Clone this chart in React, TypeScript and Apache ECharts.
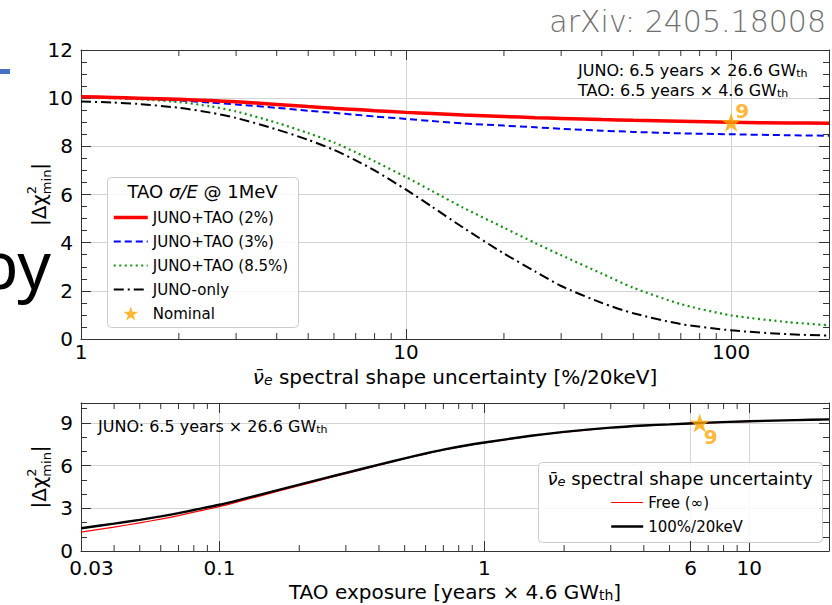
import React, { useEffect, useRef } from 'react';
import * as echarts from 'echarts';

// ---- data: upper panel (x = spectral shape uncertainty [%/20keV]) ----
const uncertaintyX = [1, 1.25, 1.5, 2, 2.5, 3, 4, 5, 6, 7, 8, 10, 12, 15, 20, 25, 30, 40, 50, 70, 100, 150, 200];
const junoTao2 = [10.06, 10.03, 10.0, 9.95, 9.9, 9.85, 9.74, 9.65, 9.58, 9.53, 9.48, 9.41, 9.36, 9.3, 9.24, 9.19, 9.16, 9.11, 9.08, 9.04, 9.0, 8.97, 8.96];
const junoTao3 = [10.05, 10.02, 9.98, 9.9, 9.82, 9.74, 9.6, 9.48, 9.39, 9.31, 9.24, 9.14, 9.05, 8.95, 8.86, 8.79, 8.73, 8.65, 8.6, 8.54, 8.5, 8.46, 8.44];
const junoTao85 = [10.02, 10.0, 9.96, 9.84, 9.66, 9.45, 8.98, 8.55, 8.16, 7.75, 7.38, 6.72, 6.15, 5.45, 4.62, 3.98, 3.48, 2.72, 2.13, 1.45, 0.98, 0.7, 0.57];
const junoOnly = [9.86, 9.82, 9.76, 9.6, 9.4, 9.18, 8.7, 8.27, 7.85, 7.42, 7.0, 6.2, 5.5, 4.62, 3.55, 2.8, 2.2, 1.5, 1.07, 0.62, 0.36, 0.2, 0.14];
const nominalTop = [100, 9];

// ---- data: lower panel (x = TAO exposure [years x 4.6 GWth]) ----
const exposureX = [0.03, 0.04, 0.05, 0.06, 0.07, 0.08, 0.1, 0.12, 0.15, 0.2, 0.25, 0.3, 0.4, 0.5, 0.6, 0.7, 0.85, 1, 1.5, 2, 3, 4, 5, 7, 10, 15, 20];
const shapeFree = [1.33, 1.68, 1.98, 2.24, 2.49, 2.73, 3.12, 3.5, 3.98, 4.59, 5.06, 5.44, 6.03, 6.48, 6.83, 7.1, 7.39, 7.6, 8.08, 8.36, 8.66, 8.81, 8.89, 9.01, 9.11, 9.19, 9.24];
const shape100 = [1.6, 1.92, 2.19, 2.43, 2.66, 2.88, 3.25, 3.61, 4.07, 4.66, 5.12, 5.49, 6.07, 6.51, 6.85, 7.12, 7.41, 7.62, 8.1, 8.37, 8.67, 8.82, 8.9, 9.02, 9.12, 9.2, 9.25];
const nominalBottom = [6.5, 9];

// ---- axis decorations ----
const topMinorTicks = [2, 3, 4, 5, 6, 7, 8, 9, 20, 30, 40, 50, 60, 70, 80, 90];
const bottomMinorTicks = [0.04, 0.05, 0.06, 0.07, 0.08, 0.09, 0.2, 0.3, 0.4, 0.5, 0.6, 0.7, 0.8, 0.9, 2, 3, 4, 5, 7, 8, 9];
const bottomExtraMajorTicks = [6];

const FONT = "'DejaVu Sans', sans-serif";
const AXIS_COLOR = '#333333';
const GRID_COLOR = '#d4d4d4';
const STAR = 'path://M50,0 L61.2,34.5 L97.6,34.5 L68.2,55.9 L79.4,90.5 L50,69.1 L20.6,90.5 L31.8,55.9 L2.4,34.5 L38.8,34.5 Z';

const zip = (xs: number[], ys: number[]) => xs.map((x, i) => [x, ys[i]]);
const fmt = (v: number) => String(Number(v.toPrecision(4)));

function tickRenderer(len: number, withLabel: boolean) {
  return (params: any, api: any) => {
    const v = api.value(0);
    const p = api.coord([v, api.value(1)]);
    const cs = params.coordSys;
    const bottom = cs.y + cs.height;
    const style = { stroke: AXIS_COLOR, lineWidth: 1 };
    const children: any[] = [
      { type: 'line', shape: { x1: p[0], y1: bottom, x2: p[0], y2: bottom - len }, style },
      { type: 'line', shape: { x1: p[0], y1: cs.y, x2: p[0], y2: cs.y + len }, style },
    ];
    if (withLabel) {
      children.push({
        type: 'text',
        x: p[0],
        y: bottom + 7,
        style: { text: fmt(v), fill: '#000', fontSize: 20, lineHeight: 20, fontFamily: FONT, align: 'center', verticalAlign: 'top' },
      });
    }
    return { type: 'group', children };
  };
}

function gridLineRenderer(params: any, api: any) {
  const p = api.coord([api.value(0), api.value(1)]);
  const cs = params.coordSys;
  return {
    type: 'line',
    shape: { x1: p[0], y1: cs.y, x2: p[0], y2: cs.y + cs.height },
    style: { stroke: GRID_COLOR, lineWidth: 1 },
  };
}

const subRich = {
  n: { fontSize: 20, fontFamily: FONT, color: '#000', lineHeight: 20 },
  s: { fontSize: 14, fontFamily: FONT, color: '#000', lineHeight: 10, verticalAlign: 'bottom' },
  nu: { fontSize: 20, fontFamily: FONT, color: '#000', lineHeight: 20, fontStyle: 'italic' },
  e: { fontSize: 14, fontFamily: FONT, color: '#000', lineHeight: 10, verticalAlign: 'bottom', fontStyle: 'italic' },
};

const yNameRich = {
  n: { fontSize: 20, fontFamily: FONT, color: '#000', lineHeight: 28, align: 'left' },
  sup: { fontSize: 13, fontFamily: FONT, color: '#000', lineHeight: 12, verticalAlign: 'top', align: 'left', width: 0 },
  sub: { fontSize: 13, fontFamily: FONT, color: '#000', lineHeight: 12, verticalAlign: 'bottom', align: 'left' },
};
const Y_NAME = '{n||Δχ}{sup|2}{sub|min}{n||}';

function xAxisBase(grid: number, min: number, max: number, pos: 'top' | 'bottom') {
  return {
    gridIndex: grid,
    type: 'log',
    logBase: 10,
    min,
    max,
    position: pos,
    axisLine: { show: true, onZero: false, lineStyle: { color: AXIS_COLOR, width: 1 } },
    axisTick: { show: true, inside: true, length: 10, lineStyle: { color: AXIS_COLOR } },
    minorTick: { show: false },
    axisLabel: { show: false },
    splitLine: { show: false },
  };
}

function yAxisBase(grid: number, max: number, interval: number, minorSplit: number, pos: 'left' | 'right') {
  return {
    gridIndex: grid,
    type: 'value',
    min: 0,
    max,
    interval,
    position: pos,
    axisLine: { show: true, onZero: false, lineStyle: { color: AXIS_COLOR, width: 1 } },
    axisTick: { show: true, inside: true, length: 10, lineStyle: { color: AXIS_COLOR } },
    minorTick: { show: true, splitNumber: minorSplit, length: 6, lineStyle: { color: AXIS_COLOR } },
    axisLabel: { show: false },
    splitLine: { show: false },
  };
}

const labelStyle = { fontSize: 20, lineHeight: 20, fontFamily: FONT, color: '#000' };
const noMarker = { opacity: 0 };

function lineSeries(name: string, xi: number, xs: number[], ys: number[], color: string, width: number, type: any, z: number) {
  return {
    name,
    type: 'line',
    xAxisIndex: xi,
    yAxisIndex: xi,
    data: zip(xs, ys),
    showSymbol: false,
    symbol: 'none',
    smooth: 0.25,
    z,
    lineStyle: { color, width, type },
    itemStyle: { color },
  };
}

function buildOption(): any {
  return {
    animation: false,
    textStyle: { fontFamily: FONT },
    grid: [
      { left: 81, top: 50, right: 3, height: 289, containLabel: false },
      { left: 81, top: 403, right: 3, height: 148, containLabel: false },
    ],
    xAxis: [
      {
        ...xAxisBase(0, 1, 200, 'bottom'),
        axisLabel: { ...labelStyle, show: true, margin: 3, formatter: (v: number) => (v > 199 ? '' : fmt(v)) },
        splitLine: { show: true, lineStyle: { color: GRID_COLOR, width: 1 } },
        name: '{nu|ν\u0304}{e|e}{n| spectral shape uncertainty [%/20keV]}',
        nameLocation: 'middle',
        nameGap: 28,
        nameMoveOverlap: false,
        nameTextStyle: { rich: subRich },
      },
      xAxisBase(0, 1, 200, 'top'),
      {
        ...xAxisBase(1, 0.03, 20, 'bottom'),
        axisLabel: {
          ...labelStyle,
          show: true,
          margin: 7,
          formatter: (v: number) => (v > 19 ? '' : v < 0.031 ? '{first|' + fmt(v) + '}' : fmt(v)),
          rich: { first: { ...labelStyle, padding: [0, 0, 0, 21] } },
        },
        splitLine: { show: true, lineStyle: { color: GRID_COLOR, width: 1 } },
        name: '{n|TAO exposure [years × 4.6 GW}{s|th}{n|]}',
        nameLocation: 'middle',
        nameGap: 31,
        nameMoveOverlap: false,
        nameTextStyle: { rich: subRich },
      },
      xAxisBase(1, 0.03, 20, 'top'),
    ],
    yAxis: [
      {
        ...yAxisBase(0, 12, 2, 4, 'left'),
        axisLabel: { ...labelStyle, show: true, margin: 8 },
        splitLine: { show: true, lineStyle: { color: GRID_COLOR, width: 1 } },
        name: Y_NAME,
        nameLocation: 'middle',
        nameGap: 28,
        nameMoveOverlap: false,
        nameTextStyle: { rich: yNameRich },
      },
      yAxisBase(0, 12, 2, 4, 'right'),
      {
        ...yAxisBase(1, 10.4, 3, 3, 'left'),
        axisLabel: {
          ...labelStyle,
          show: true,
          margin: 8,
          formatter: (v: number) => (Math.abs(v % 3) < 1e-9 ? String(v) : ''),
        },
        splitLine: { show: true, lineStyle: { color: GRID_COLOR, width: 1 } },
        name: Y_NAME,
        nameLocation: 'middle',
        nameGap: 28,
        nameMoveOverlap: false,
        nameTextStyle: { rich: yNameRich },
      },
      yAxisBase(1, 10.4, 3, 3, 'right'),
    ],
    legend: [
      {
        orient: 'vertical',
        left: 112,
        top: 210,
        padding: 0,
        itemGap: 9,
        itemWidth: 34,
        itemHeight: 14,
        selectedMode: false,
        z: 10,
        data: [
          { name: 'JUNO+TAO (2%)', itemStyle: noMarker },
          { name: 'JUNO+TAO (3%)', itemStyle: noMarker },
          { name: 'JUNO+TAO (8.5%)', itemStyle: noMarker },
          { name: 'JUNO-only', itemStyle: noMarker },
          { name: 'Nominal' },
        ],
        textStyle: { fontSize: 15, fontFamily: FONT, color: '#000', lineHeight: 15 },
        lineStyle: { width: 'inherit' },
      },
      {
        orient: 'vertical',
        left: 610,
        top: 495,
        padding: 0,
        itemGap: 9,
        itemWidth: 32,
        itemHeight: 14,
        selectedMode: false,
        z: 10,
        data: [
          { name: 'Free (∞)', itemStyle: noMarker },
          { name: '100%/20keV', itemStyle: noMarker },
        ],
        textStyle: { fontSize: 15, fontFamily: FONT, color: '#000', lineHeight: 15 },
        lineStyle: { width: 'inherit' },
      },
    ],
    series: [
      lineSeries('JUNO+TAO (2%)', 0, uncertaintyX, junoTao2, '#ff0000', 3.5, 'solid', 5),
      lineSeries('JUNO+TAO (3%)', 0, uncertaintyX, junoTao3, '#0000ff', 2, [7, 4], 4),
      lineSeries('JUNO+TAO (8.5%)', 0, uncertaintyX, junoTao85, '#168f16', 2.2, [2, 3.5], 4),
      lineSeries('JUNO-only', 0, uncertaintyX, junoOnly, '#000000', 2, [10, 4, 2, 4], 4),
      {
        name: 'Nominal', type: 'scatter', xAxisIndex: 0, yAxisIndex: 0, data: [nominalTop],
        symbol: STAR, symbolSize: 20, symbolKeepAspect: true, z: 6,
        itemStyle: { color: '#ffa500' },
        label: {
          show: true, position: [14, -12], align: 'left', verticalAlign: 'top', lineHeight: 20,
          formatter: (p: any) => String(p.value[1]), color: '#ffa500', fontSize: 20, fontWeight: 'bold', fontFamily: FONT,
        },
      },
      lineSeries('Free (∞)', 2, exposureX, shapeFree, '#ff0000', 1.2, 'solid', 4),
      lineSeries('100%/20keV', 2, exposureX, shape100, '#000000', 2.4, 'solid', 5),
      {
        name: 'Nominal exposure', type: 'scatter', xAxisIndex: 2, yAxisIndex: 2, data: [nominalBottom],
        symbol: STAR, symbolSize: 20, symbolKeepAspect: true, z: 6,
        itemStyle: { color: '#ffa500' },
        label: {
          show: true, position: [14, 14], align: 'left', verticalAlign: 'top', lineHeight: 20,
          formatter: (p: any) => String(p.value[1]), color: '#ffa500', fontSize: 20, fontWeight: 'bold', fontFamily: FONT,
        },
      },
      {
        type: 'custom', xAxisIndex: 0, yAxisIndex: 0, silent: true, z: 3,
        data: topMinorTicks.map((v) => [v, 0]),
        renderItem: tickRenderer(6, false),
      },
      {
        type: 'custom', xAxisIndex: 2, yAxisIndex: 2, silent: true, z: 3,
        data: bottomMinorTicks.map((v) => [v, 0]),
        renderItem: tickRenderer(6, false),
      },
      {
        type: 'custom', xAxisIndex: 2, yAxisIndex: 2, silent: true, z: 3,
        data: bottomExtraMajorTicks.map((v) => [v, 0]),
        renderItem: tickRenderer(10, true),
      },
      {
        type: 'custom', xAxisIndex: 2, yAxisIndex: 2, silent: true, z: 1,
        data: bottomExtraMajorTicks.map((v) => [v, 0]),
        renderItem: gridLineRenderer,
      },
    ],
    graphic: [
      { type: 'rect', shape: { x: 0, y: 69, width: 10, height: 5 }, style: { fill: '#4472c4' }, z: 5 },
      {
        type: 'text', x: 51, y: 263, z: 5,
        style: { text: 'by', fontSize: 66, fontFamily: "'Noto Sans', sans-serif", fill: '#000', align: 'right', verticalAlign: 'middle' },
      },
      {
        type: 'text', x: 826, y: 21, z: 5,
        style: { text: 'arXiv: 2405.18008', fontSize: 30, fontWeight: 200, fontFamily: FONT, fill: '#6f6f6f', align: 'right', verticalAlign: 'middle' },
      },
      {
        type: 'rect', z: 3,
        shape: { x: 107.5, y: 177.5, width: 191, height: 150, r: 4 },
        style: { fill: 'rgba(255,255,255,0.85)', stroke: '#cccccc', lineWidth: 1 },
      },
      {
        type: 'rect', z: 3,
        shape: { x: 538.5, y: 462.5, width: 284, height: 80, r: 4 },
        style: { fill: 'rgba(255,255,255,0.85)', stroke: '#cccccc', lineWidth: 1 },
      },
      {
        type: 'text', x: 202.5, y: 191, z: 11,
        style: {
          text: '{n|TAO }{i|σ/E}{n| @ 1MeV}', align: 'center', verticalAlign: 'middle',
          rich: {
            n: { fontSize: 18, fontFamily: FONT, fill: '#000' },
            i: { fontSize: 18, fontFamily: FONT, fill: '#000', fontStyle: 'italic' },
          },
        },
      },
      {
        type: 'text', x: 680, y: 478, z: 11,
        style: {
          text: '{nu|ν\u0304}{e|e}{n| spectral shape uncertainty}', align: 'center', verticalAlign: 'middle',
          rich: {
            n: { fontSize: 18, fontFamily: FONT, fill: '#000', lineHeight: 20 },
            nu: { fontSize: 18, fontFamily: FONT, fill: '#000', lineHeight: 20, fontStyle: 'italic' },
            e: { fontSize: 13, fontFamily: FONT, fill: '#000', lineHeight: 10, verticalAlign: 'bottom', fontStyle: 'italic' },
          },
        },
      },
      ...[
        { x: 578, y: 70.5, t: '{n|JUNO: 6.5 years × 26.6 GW}{s|th}' },
        { x: 578, y: 90, t: '{n|TAO: 6.5 years × 4.6 GW}{s|th}' },
        { x: 98, y: 426, t: '{n|JUNO: 6.5 years × 26.6 GW}{s|th}' },
      ].map((a) => ({
        type: 'text', x: a.x, y: a.y, z: 11,
        style: {
          text: a.t, align: 'left', verticalAlign: 'middle',
          rich: {
            n: { fontSize: 16, fontFamily: FONT, fill: '#000', lineHeight: 17 },
            s: { fontSize: 11, fontFamily: FONT, fill: '#000', lineHeight: 8, verticalAlign: 'bottom' },
          },
        },
      })),
    ],
  };
}

export default function App() {
  const ref = useRef<HTMLDivElement>(null);
  useEffect(() => {
    if (!ref.current) return;
    const chart = echarts.init(ref.current, undefined, { renderer: 'svg' });
    chart.setOption(buildOption());
    return () => chart.dispose();
  }, []);
  return (
    <div
      ref={ref}
      style={{ position: 'absolute', left: 0, top: 0, width: 832, height: 605, background: '#fff' }}
    />
  );
}
